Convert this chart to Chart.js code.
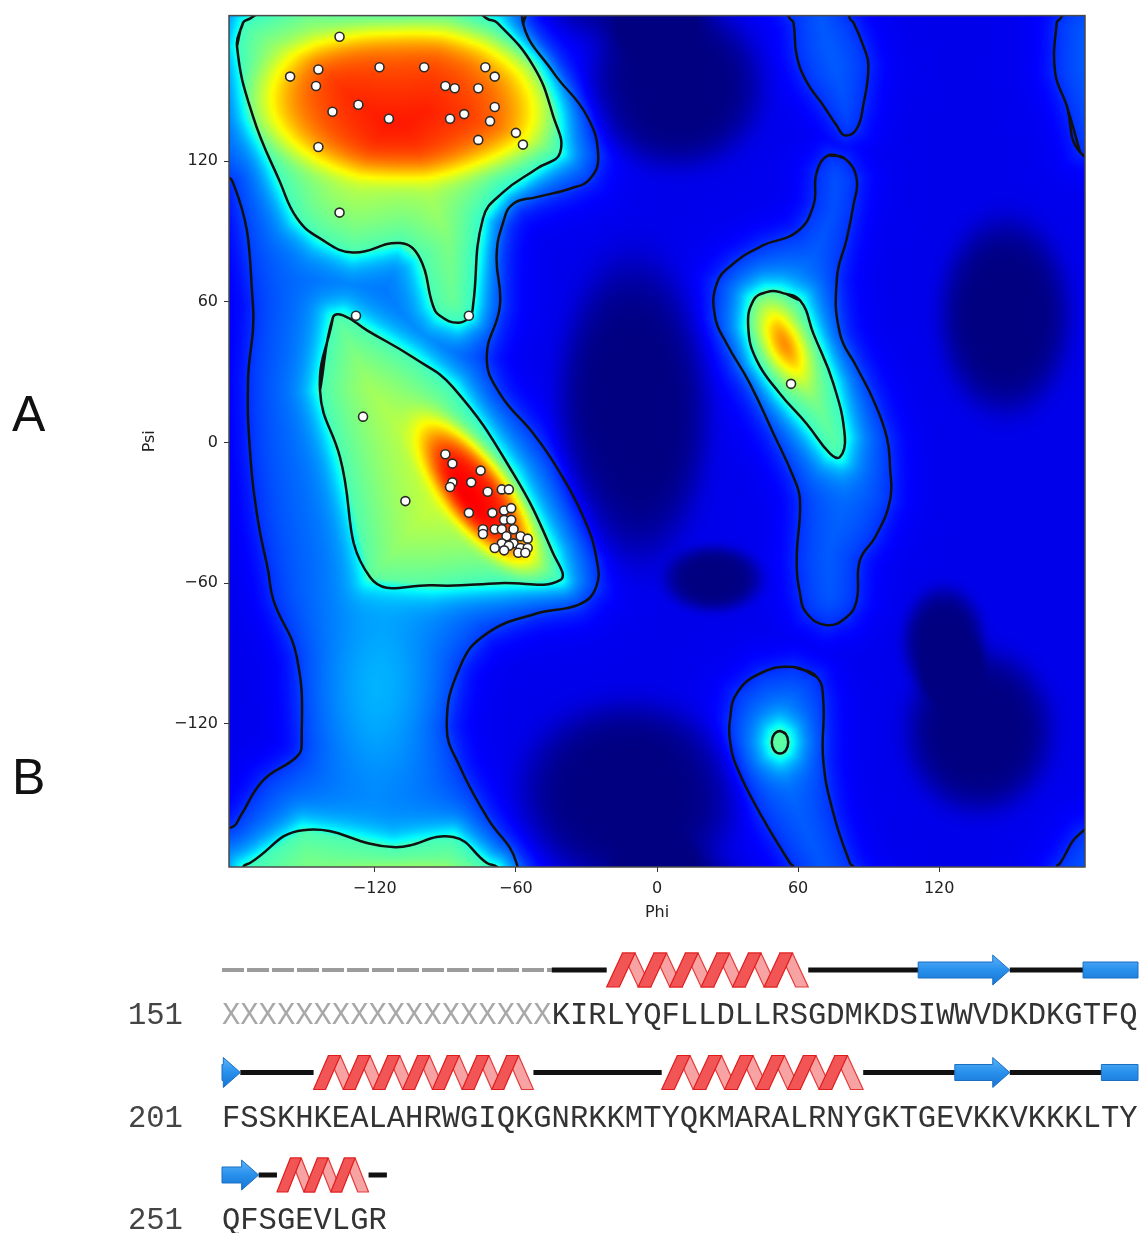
<!DOCTYPE html>
<html>
<head>
<meta charset="utf-8">
<script src="https://cdn.jsdelivr.net/npm/chart.js@4.4.1/dist/chart.umd.min.js"></script>
<style>
  body { margin: 0; background: #fff; }
  #page { position: relative; width: 1142px; height: 1233px; overflow: hidden; }
  .panel-label { position: absolute; font-family: "Liberation Sans", Arial, sans-serif; font-size: 50px; color: #111; line-height: 1; }
  .seq { position: absolute; font-family: "Liberation Mono", "Courier New", monospace; font-size: 30.53px; line-height: 1; color: #333; white-space: pre; }
  .seq .gap { color: #a8a8a8; }
  .num { position: absolute; left: 128px; font-family: "Liberation Mono", "Courier New", monospace; font-size: 30.53px; line-height: 1; color: #444; }
</style>
</head>
<body>
<div id="page">
  <div class="panel-label" style="left:12px; top:389px;">A</div>
  <div class="panel-label" style="left:12px; top:752px;">B</div>
  <div style="position:absolute; left:0; top:0; width:1142px; height:940px;"><canvas id="rama"></canvas></div>
  <div style="position:absolute; left:0; top:940px; width:1142px; height:293px;"><canvas id="ss"></canvas></div>
  <div id="seqRows"></div>
</div>
<script>
// =========================
// DATA
// =========================
const tickValues = [-120, -60, 0, 60, 120];

// residues (phi, psi)
const phiValues = [
  -135, -156, -144, -145, -118, -99, -73, -69, -90, -86, -76, -127, -138, -114, -88, -82, -69, -71, -60, -57, -76, -144, -135,
  -128, -80, -125, -107,
  -90, -87, -75, -87, -88, -79, -72, -66, -63, -80, -70, -65, -62, -65, -62, -74, -74, -69, -66, -61, -64, -58, -55, -66, -61, -69, -63, -58, -55, -59, -65, -56,
  57
];
const psiValues = [
  173, 156, 159, 152, 160, 160, 160, 156, 152, 151, 151, 144, 141, 138, 138, 140, 143, 137, 132, 127, 129, 126, 98,
  54, 54, 11, -25,
  -5, -9, -12, -17, -19, -17, -21, -20, -20, -30, -30, -29, -28, -33, -33, -37, -39, -37, -37, -37, -40, -40, -41, -43, -43, -45, -44, -45, -45, -47, -46, -47,
  25
];

// contour outlines (phi, psi); psi may run past +-180 where a region wraps
const outerAllowed = [
  [-54, 195], [-56.9, 178.5], [-44.1, 157.8], [-29.9, 139.4], [-25, 122.3], [-28.5, 112.4], [-37, 108.2],
  [-51.2, 104.6], [-61.1, 101.8], [-65.4, 93.9], [-68.2, 79.7], [-66.8, 58.4], [-72.4, 36.4], [-66.8, 20.8],
  [-52.6, 3.8], [-42.7, -10.5], [-31.3, -31.8], [-25.6, -50.2], [-26, -62], [-33, -69], [-51.2, -72.9],
  [-72.4, -81.5], [-83.8, -95.7], [-89.4, -121.2], [-83.8, -138.3], [-72.4, -159.6], [-59.7, -179.4],
  [-62, -195], [-195, -195], [-195, -168], [-180.3, -163.8], [-177.3, -159.6], [-167.4, -144], [-153.2, -134],
  [-151.1, -128.3], [-153.2, -91.4], [-163.1, -67.3], [-165.4, -54.5], [-169.7, -33.2], [-173.1, -3.3],
  [-173.9, 26.5], [-171.8, 58.4], [-180.3, 110.8], [-195, 118], [-195, 195]
];
const outerLeftHanded = [
  [73, 122.5], [80, 121], [84.9, 112.4], [83.5, 101], [80.7, 86.9], [76.5, 70], [77.8, 46.4], [84.9, 32.2],
  [92, 18.1], [97.7, 2.3], [99.1, -10.5], [99.1, -24.6], [93, -40], [86.3, -50.2], [84.9, -67.3], [80.7, -74.4],
  [72.2, -77.9], [63.7, -72.9], [60.8, -64.4], [59.4, -50.2], [60.8, -24.6], [58, -14.7], [49.5, 3.8],
  [39.5, 25.1], [29.6, 42.2], [24.7, 53.5], [25.4, 67.7], [32.4, 76.2], [45, 84], [59.4, 89.7], [66.5, 101],
  [67.9, 115.2]
];
const outerGamma = [
  [58, -95.7], [67.9, -99.9], [70.7, -109.9], [70.7, -135.4], [75, -158.1], [82.1, -179.4], [83.5, -180.9],
  [87.7, -190.8], [89.9, -199.3], [87.7, -216.3], [84.9, -226.3], [79.9, -229.1], [76.4, -224.9],
  [70.7, -216.3], [63.7, -206.4], [59.4, -195], [58, -180.9], [56.6, -179.4], [43.8, -158.1], [33.9, -138.3],
  [31, -126.9], [31, -118.4], [33.9, -107], [43.8, -98.5]
];
const outerEdge = [
  [179.9, 123.8], [174.2, 143.7], [169.3, 157.8], [170, 179.1], [171.4, 180.6], [179.9, 193.3], [195, 200], [195, 120]
];
const innerBeta = [
  [-176, 179], [-178.6, 169], [-171.8, 139], [-160.3, 111], [-153, 95.5], [-143.3, 87], [-129.3, 81],
  [-109.3, 85], [-100.8, 78.5], [-95.3, 58.5], [-92.3, 54], [-84.6, 51], [-79.5, 53.7], [-78.2, 58.5],
  [-74, 95.5], [-65.5, 106.6], [-51, 116.8], [-41.2, 123.6], [-44.2, 139.4], [-52.7, 160.7], [-68, 179],
  [-72.3, 180.7], [-86.7, 191.8], [-112.3, 187.5], [-150.5, 194.7], [-173.1, 180.7]
];
const innerAlphaR = [
  [-137.8, 53.3], [-143.3, 22.2], [-134.8, -6.3], [-122, -57.5], [-95.3, -60.9], [-66.8, -60], [-41.2, -58.7],
  [-44.2, -47.2], [-61.2, -13.1], [-86.7, 23.5], [-103.8, 36.3], [-123.3, 47.8], [-133.5, 54.2]
];
const innerAlphaL = [
  [52.3, 64.1], [60.8, 60.6], [66.5, 46.4], [75, 25.1], [79.9, 2.3], [77.8, -6.2], [73.6, -4.8], [63.7, 7.9],
  [52.3, 20.8], [42.4, 35], [38.8, 49.2], [41, 60.6], [46.6, 64.1]
];
const innerGamma = [
  [52.3, -123], [54.8, -124.4], [55.8, -127.8], [54.8, -131.2], [52.3, -132.6], [49.8, -131.2], [48.8, -127.8], [49.8, -124.4]
];
const outerOutlines = [outerAllowed, outerLeftHanded, outerGamma, outerEdge];
const outerWraps = [false, false, true, true];
const innerOutlines = [innerBeta, innerAlphaR, innerAlphaL, innerGamma];
const innerWraps = [true, false, false, false];
const contourLevels = [0.17, 0.45];
const baseLevel = 0.105;

// extra shading inside the regions, and the empty patches:
// [phi, psi, spread phi, spread psi, tilt (deg), height, sharpness]
const densityCores = [
  [-107, 145, 55, 28, 0, 0.25, 6],
  [-76, -22, 30, 11, -53, 0.35, 4],
  [54, 42, 12, 6, -63, 0.24, 2],
  [-118, -105, 18, 30, 0, 0.07, 2],
  [52, -128, 6, 9, 0, 0.02, 2]
];
const emptyPatches = [
  [8, 152, 32, 30, 0, -0.105, 6],
  [-10, 14, 28, 56, 0, -0.105, 6],
  [24, -58, 18, 12, 0, -0.105, 6],
  [148, 54, 24, 36, 0, -0.105, 6],
  [122, -85, 15, 20, 0, -0.105, 6],
  [137, -123, 27, 30, 0, -0.105, 6],
  [-12, -150, 40, 34, 0, -0.105, 6]
];

// sequence panel
const rowStarts = [151, 201, 251];
const seqRows = [
  "XXXXXXXXXXXXXXXXXXKIRLYQFLLDLLRSGDMKDSIWWVDKDKGTFQ",
  "FSSKHKEALAHRWGIQKGNRKKMTYQKMARALRNYGKTGEVKKVKKKLTY",
  "QFSGEVLGR"
];
// [row, first residue, end residue, kind]
const ssElements = [
  [0, 0, 18, "missing"], [0, 18, 21, "coil"], [0, 21, 32, "helix"], [0, 32, 38, "coil"],
  [0, 38, 43, "strand"], [0, 43, 47, "coil"], [0, 47, 50, "strandOpen"],
  [1, 0, 1, "strand"], [1, 1, 5, "coil"], [1, 5, 17, "helix"], [1, 17, 24, "coil"],
  [1, 24, 35, "helix"], [1, 35, 40, "coil"], [1, 40, 43, "strand"], [1, 43, 48, "coil"],
  [1, 48, 50, "strandOpen"],
  [2, 0, 2, "strand"], [2, 2, 3, "coil"], [2, 3, 8, "helix"], [2, 8, 9, "coil"]
];

// =========================
// SEQUENCE TEXT
// =========================
const seqBox = document.getElementById("seqRows");
seqRows.forEach((s, r) => {
  const top = 1001 + r * 102.5;
  const num = document.createElement("div");
  num.className = "num";
  num.style.top = top + "px";
  num.textContent = rowStarts[r];
  seqBox.appendChild(num);

  const line = document.createElement("div");
  line.className = "seq";
  line.style.left = "222px";
  line.style.top = top + "px";
  const m = s.match(/^(X*)(.*)$/);
  if (m[1]) {
    const g = document.createElement("span");
    g.className = "gap";
    g.textContent = m[1];
    line.appendChild(g);
  }
  line.appendChild(document.createTextNode(m[2]));
  seqBox.appendChild(line);
});

// =========================
// DENSITY FIELD (built from the outlines)
// =========================
const wrap = d => ((d % 360) + 540) % 360 - 180;
const outerStep = 2 * (contourLevels[0] - baseLevel);
const innerStep = 2 * (contourLevels[1] - baseLevel - outerStep);

function bbox(poly) {
  const xs = poly.map(p => p[0]), ys = poly.map(p => p[1]);
  return [Math.min(...xs), Math.max(...xs), Math.min(...ys), Math.max(...ys)];
}
const outerBoxes = outerOutlines.map(bbox);
const innerBoxes = innerOutlines.map(bbox);

function polySD(px, py, poly) {
  let inside = false, best = Infinity;
  for (let i = 0, j = poly.length - 1; i < poly.length; j = i++) {
    const xi = poly[i][0], yi = poly[i][1], xj = poly[j][0], yj = poly[j][1];
    if ((yi > py) !== (yj > py) && px < (xj - xi) * (py - yi) / (yj - yi) + xi) inside = !inside;
    const dx = xj - xi, dy = yj - yi;
    let t = ((px - xi) * dx + (py - yi) * dy) / (dx * dx + dy * dy);
    t = Math.max(0, Math.min(1, t));
    const ex = xi + t * dx - px, ey = yi + t * dy - py;
    const d2 = ex * ex + ey * ey;
    if (d2 < best) best = d2;
  }
  const d = Math.sqrt(best);
  return inside ? -d : d;
}

function unionSD(phi, psi, polys, boxes, wraps) {
  let best = 999;
  polys.forEach((poly, k) => {
    const offs = wraps[k] ? [0, 360, -360] : [0];
    const b = boxes[k];
    offs.forEach(o => {
      const y = psi + o;
      const bx = Math.max(b[0] - phi, 0, phi - b[1]), by = Math.max(b[2] - y, 0, y - b[3]);
      if (bx > 70 || by > 70) return;
      const d = polySD(phi, y, poly);
      if (d < best) best = d;
    });
  });
  return best;
}

const profile = (d, sOut, sIn) => d >= 0 ? 0.5 * Math.exp(-d / sOut) : 1 - 0.5 * Math.exp(d / sIn);

function bump(p, phi, psi) {
  const dx = phi - p[0], dy = wrap(psi - p[1]);
  const t = p[4] * Math.PI / 180;
  const u = dx * Math.cos(t) + dy * Math.sin(t);
  const w = -dx * Math.sin(t) + dy * Math.cos(t);
  const q = (u / p[2]) ** 2 + (w / p[3]) ** 2;
  return p[5] * Math.exp(-0.5 * Math.pow(q, p[6] / 2));
}

function density(phi, psi) {
  let v = baseLevel;
  v += outerStep * profile(unionSD(phi, psi, outerOutlines, outerBoxes, outerWraps), 7, 12);
  v += innerStep * profile(unionSD(phi, psi, innerOutlines, innerBoxes, innerWraps), 6, 42);
  densityCores.forEach(p => { v += bump(p, phi, psi); });
  emptyPatches.forEach(p => { v += bump(p, phi, psi); });
  return Math.max(0, Math.min(1, v));
}

function jet(v) {
  const c = x => Math.max(0, Math.min(1, x));
  return [
    c(Math.min(4 * v - 1.5, -4 * v + 4.5)) * 255,
    c(Math.min(4 * v - 0.5, -4 * v + 3.5)) * 255,
    c(Math.min(4 * v + 0.5, -4 * v + 2.5)) * 255
  ];
}

const STEP = 3;
let fieldCache = null;

function buildField(chart) {
  const a = chart.chartArea, xs = chart.scales.x, ys = chart.scales.y;
  const nx = Math.ceil((a.right - a.left) / STEP) + 1;
  const ny = Math.ceil((a.bottom - a.top) / STEP) + 1;
  const off = document.createElement("canvas");
  off.width = nx; off.height = ny;
  const octx = off.getContext("2d");
  const img = octx.createImageData(nx, ny);
  for (let j = 0; j < ny; j++) {
    const psi = ys.getValueForPixel(a.top + j * STEP);
    for (let i = 0; i < nx; i++) {
      const phi = xs.getValueForPixel(a.left + i * STEP);
      const col = jet(density(phi, psi));
      const k = (j * nx + i) * 4;
      img.data[k] = col[0]; img.data[k + 1] = col[1]; img.data[k + 2] = col[2]; img.data[k + 3] = 255;
    }
  }
  octx.putImageData(img, 0, 0);
  return { nx, ny, off, key: a.left + "," + a.top + "," + a.right + "," + a.bottom };
}

const heatmapPlugin = {
  id: "heatmap",
  beforeDatasetsDraw(chart) {
    const ctx = chart.ctx, a = chart.chartArea;
    const key = a.left + "," + a.top + "," + a.right + "," + a.bottom;
    if (!fieldCache || fieldCache.key !== key) fieldCache = buildField(chart);
    ctx.save();
    ctx.beginPath();
    ctx.rect(a.left, a.top, a.right - a.left, a.bottom - a.top);
    ctx.clip();
    ctx.imageSmoothingEnabled = true;
    ctx.drawImage(fieldCache.off, a.left - STEP / 2, a.top - STEP / 2, fieldCache.nx * STEP, fieldCache.ny * STEP);
    ctx.restore();
  },
  afterDraw(chart) {
    const ctx = chart.ctx, a = chart.chartArea;
    ctx.save();
    ctx.strokeStyle = "#4a4a4a";
    ctx.lineWidth = 1.5;
    ctx.strokeRect(a.left, a.top, a.right - a.left, a.bottom - a.top);
    ctx.fillStyle = "#222";
    ctx.font = "16px 'DejaVu Sans'";
    ctx.textAlign = "center";
    ctx.textBaseline = "middle";
    ctx.fillText("Phi", (a.left + a.right) / 2, 913);
    ctx.translate(150, (a.top + a.bottom) / 2);
    ctx.rotate(-Math.PI / 2);
    ctx.fillText("Psi", 0, 0);
    ctx.restore();
  }
};

// =========================
// RAMACHANDRAN CHART
// =========================
const tickFmt = v => (v < 0 ? "\u2212" + Math.abs(v) : String(v));

const contourSets = [];
[[outerOutlines, outerWraps], [innerOutlines, innerWraps]].forEach(([polys, wraps]) => {
  polys.forEach((poly, k) => {
    const offs = wraps[k] ? [0, 360, -360] : [0];
    offs.forEach(o => {
      const pts = poly.concat([poly[0], poly[1]]).map(p => ({ x: p[0], y: p[1] + o }));
      contourSets.push({
        data: pts,
        showLine: true,
        pointRadius: 0,
        borderColor: "#111111",
        borderWidth: 2.5,
        tension: 0.45,
        fill: false,
        order: 1
      });
    });
  });
});

new Chart(document.getElementById("rama"), {
  type: "scatter",
  data: {
    datasets: [{
      data: phiValues.map((p, i) => ({ x: p, y: psiValues[i] })),
      pointRadius: 4.5,
      pointBackgroundColor: "#ffffff",
      pointBorderColor: "#2a2a2a",
      pointBorderWidth: 1.6,
      order: 0
    }].concat(contourSets)
  },
  options: {
    responsive: true,
    maintainAspectRatio: false,
    animation: false,
    events: [],
    elements: { line: { capBezierPoints: false, borderCapStyle: "round", borderJoinStyle: "round" } },
    layout: { padding: { left: 0, top: 15, right: 57, bottom: 0 } },
    plugins: { legend: { display: false }, tooltip: { enabled: false } },
    scales: {
      x: {
        type: "linear", min: -182, max: 182,
        afterBuildTicks: s => { s.ticks = tickValues.map(v => ({ value: v })); },
        afterFit: s => { s.height = 73; },
        grid: { display: true, drawOnChartArea: false, drawTicks: true, tickLength: 5, color: "#333" },
        border: { display: false },
        ticks: { callback: tickFmt, color: "#222", padding: 7, font: { family: "DejaVu Sans", size: 16 }, maxRotation: 0 }
      },
      y: {
        type: "linear", min: -181, max: 182,
        afterBuildTicks: s => { s.ticks = tickValues.map(v => ({ value: v })); },
        afterFit: s => { s.width = 229; },
        grid: { display: true, drawOnChartArea: false, drawTicks: true, tickLength: 5, color: "#333" },
        border: { display: false },
        ticks: { callback: tickFmt, color: "#222", padding: 6, font: { family: "DejaVu Sans", size: 16 } }
      }
    }
  },
  plugins: [heatmapPlugin]
});

// =========================
// SECONDARY STRUCTURE CARTOON
// =========================
function drawHelix(ctx, x1, x2, yc) {
  const h = 17;
  const n = Math.max(1, Math.round((x2 - x1) / 33));
  const w = (x2 - x1) / (n + 0.4);
  const t = w * 0.4;
  const yt = yc - h, yb = yc + h;
  const band = (xa, ya, xb, yb2) => {
    ctx.beginPath();
    ctx.moveTo(xa, ya); ctx.lineTo(xa + t, ya); ctx.lineTo(xb + t, yb2); ctx.lineTo(xb, yb2);
    ctx.closePath(); ctx.fill(); ctx.stroke();
  };
  ctx.lineWidth = 1.2;
  ctx.fillStyle = "#f7a3a3"; ctx.strokeStyle = "#e53a3a";
  for (let k = 0; k < n; k++) {
    const x0 = x1 + k * w;
    band(x0 + w * 0.5, yt, x0 + w, yb);
  }
  ctx.fillStyle = "#f25555"; ctx.strokeStyle = "#e01c1c";
  for (let k = 0; k < n; k++) {
    const x0 = x1 + k * w;
    band(x0, yb, x0 + w * 0.5, yt);
  }
}

function drawStrand(ctx, x1, x2, yc, head) {
  const bh = 8, hh = 15, hl = Math.min(17, x2 - x1);
  const g = ctx.createLinearGradient(0, yc - hh, 0, yc + hh);
  g.addColorStop(0, "#5db2f7");
  g.addColorStop(0.5, "#2790ec");
  g.addColorStop(1, "#1a74d2");
  ctx.fillStyle = g;
  ctx.strokeStyle = "#1b6fc4";
  ctx.lineWidth = 1;
  ctx.lineJoin = "round";
  ctx.beginPath();
  if (head) {
    ctx.moveTo(x1, yc - bh);
    ctx.lineTo(x2 - hl, yc - bh);
    ctx.lineTo(x2 - hl, yc - hh);
    ctx.lineTo(x2, yc);
    ctx.lineTo(x2 - hl, yc + hh);
    ctx.lineTo(x2 - hl, yc + bh);
    ctx.lineTo(x1, yc + bh);
  } else {
    ctx.rect(x1, yc - bh, x2 - x1, 2 * bh);
  }
  ctx.closePath();
  ctx.fill();
  ctx.stroke();
}

const cartoonPlugin = {
  id: "cartoon",
  afterDraw(chart) {
    const ctx = chart.ctx, xs = chart.scales.x, ys = chart.scales.y;
    ctx.save();
    ssElements.forEach(([r, s, e, kind]) => {
      if (kind !== "coil" && kind !== "missing") return;
      const yc = ys.getPixelForValue(r);
      ctx.beginPath();
      ctx.moveTo(xs.getPixelForValue(s), yc);
      ctx.lineTo(xs.getPixelForValue(e), yc);
      if (kind === "missing") {
        ctx.strokeStyle = "#9c9c9c"; ctx.lineWidth = 4; ctx.setLineDash([22, 3]);
      } else {
        ctx.strokeStyle = "#111"; ctx.lineWidth = 5; ctx.setLineDash([]);
      }
      ctx.stroke();
    });
    ctx.setLineDash([]);
    ssElements.forEach(([r, s, e, kind]) => {
      const yc = ys.getPixelForValue(r);
      const x1 = xs.getPixelForValue(s), x2 = xs.getPixelForValue(e);
      if (kind === "helix") drawHelix(ctx, x1, x2, yc);
      if (kind === "strand") drawStrand(ctx, x1, x2, yc, true);
      if (kind === "strandOpen") drawStrand(ctx, x1, x2, yc, false);
    });
    ctx.restore();
  }
};

new Chart(document.getElementById("ss"), {
  type: "scatter",
  data: { datasets: [] },
  options: {
    responsive: true,
    maintainAspectRatio: false,
    animation: false,
    events: [],
    layout: { padding: { left: 222, right: 4, top: 0, bottom: 0 } },
    plugins: { legend: { display: false }, tooltip: { enabled: false } },
    scales: {
      x: { type: "linear", min: 0, max: 50, display: false },
      y: { type: "linear", min: -0.2927, max: 2.5659, reverse: true, display: false }
    }
  },
  plugins: [cartoonPlugin]
});
</script>
</body>
</html>
